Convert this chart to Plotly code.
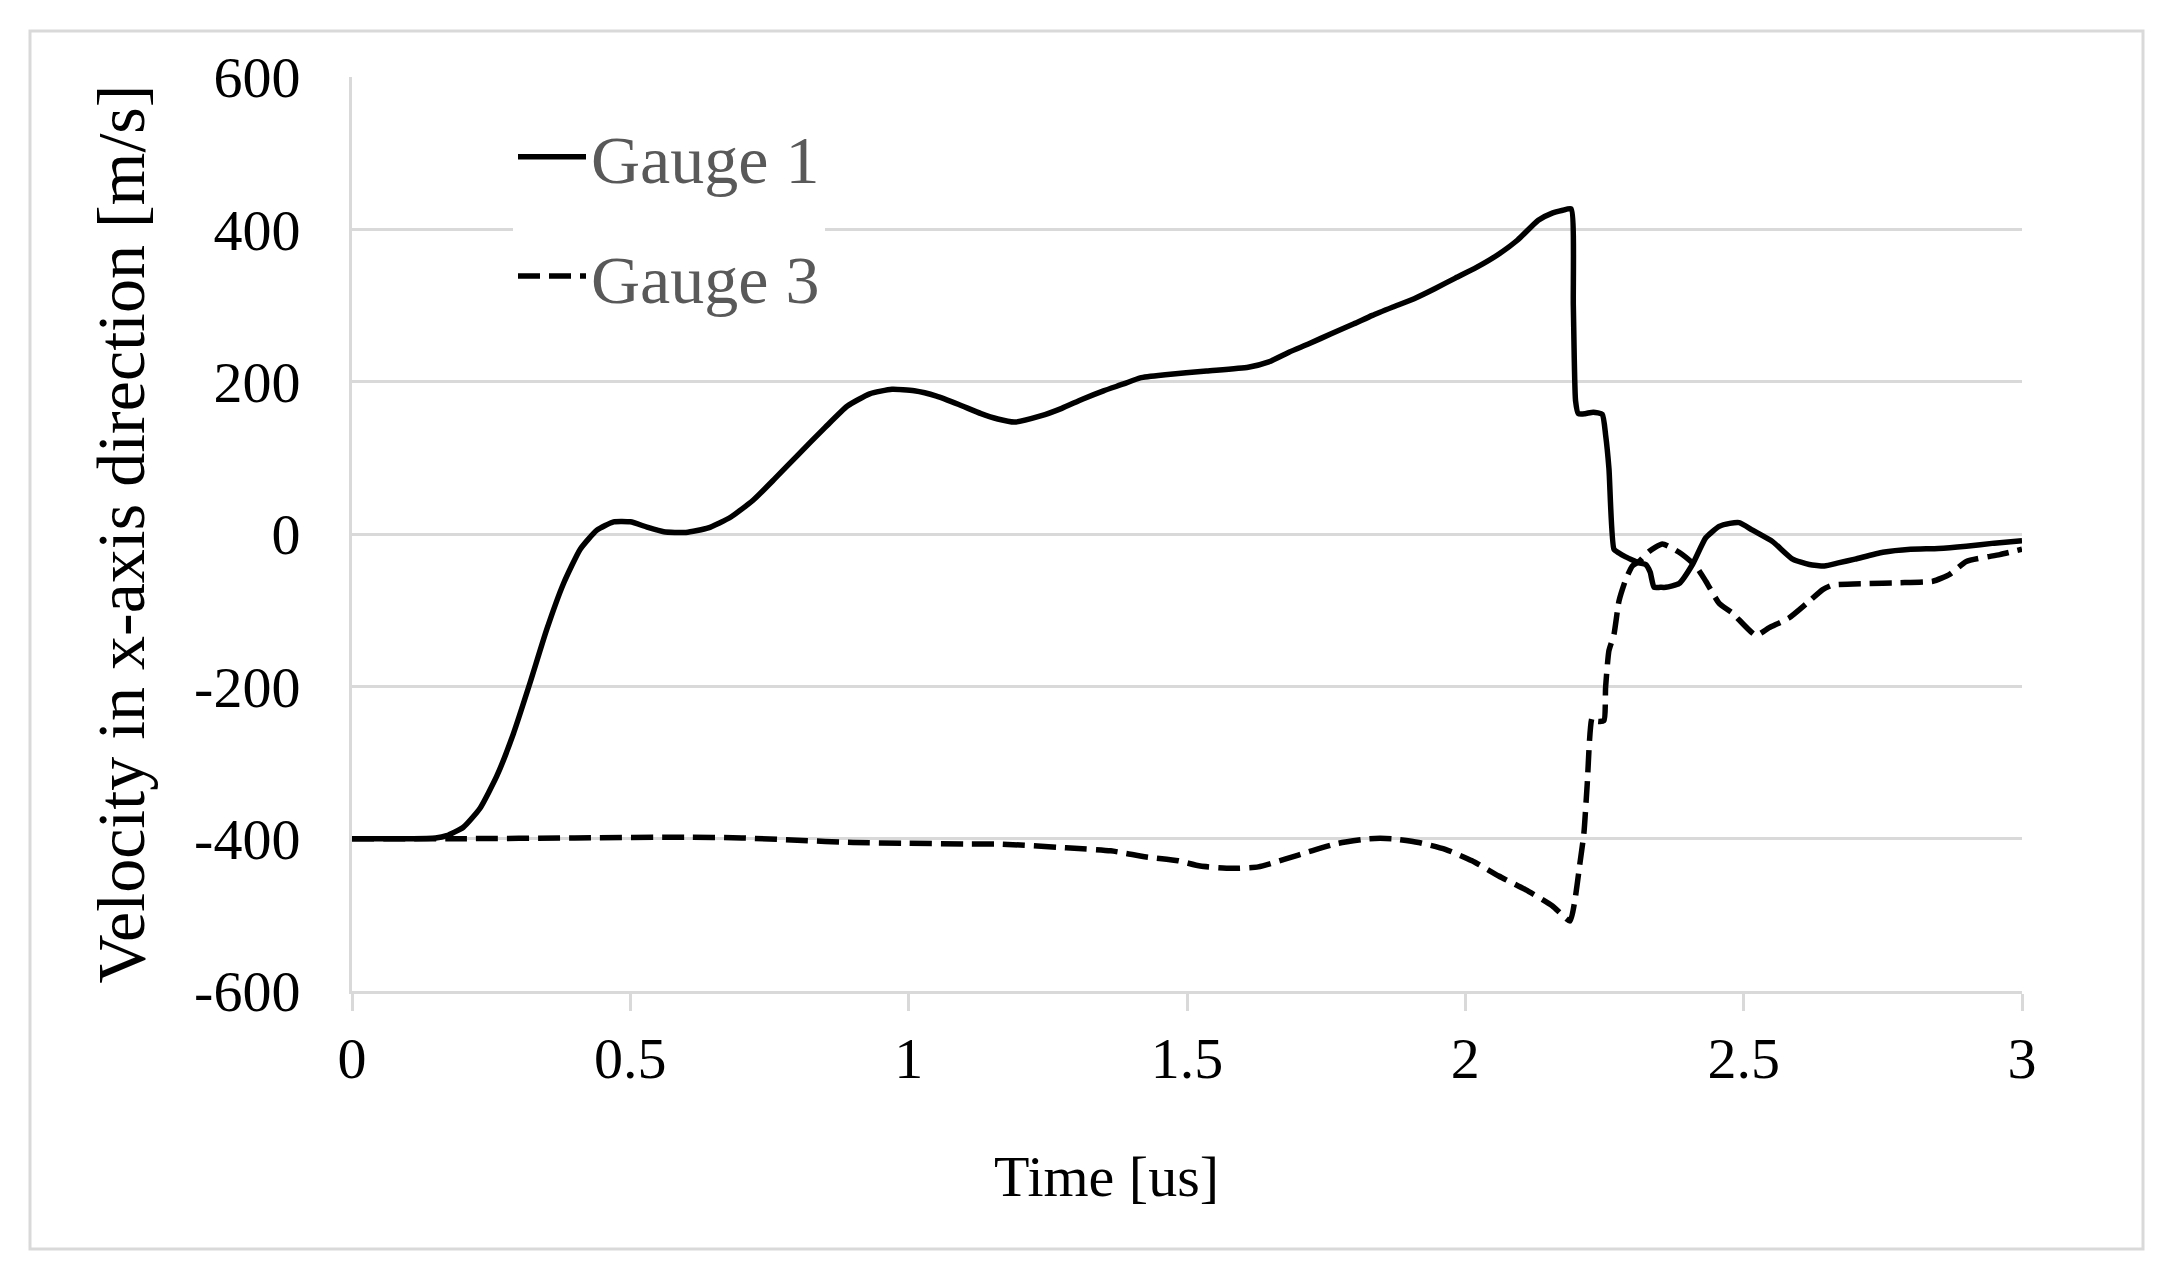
import plotly.graph_objects as go

# ---------------- data ----------------
time_g1 = [0, 0.05, 0.10, 0.15, 0.17, 0.20, 0.23, 0.26, 0.29, 0.32, 0.35, 0.38, 0.41,
           0.44, 0.47, 0.50, 0.53, 0.56, 0.60, 0.64, 0.68, 0.72, 0.76, 0.80, 0.85,
           0.89, 0.93, 0.97, 1.01, 1.05, 1.09, 1.13, 1.16, 1.19, 1.237, 1.275, 1.312,
           1.35, 1.386, 1.416, 1.461, 1.535, 1.61, 1.647, 1.684, 1.72, 1.759, 1.80,
           1.833, 1.87, 1.908, 1.945, 1.982, 2.02, 2.057, 2.094, 2.131, 2.155, 2.175,
           2.19, 2.194, 2.198, 2.203, 2.215, 2.23, 2.246, 2.252, 2.258, 2.267, 2.276,
           2.288, 2.300, 2.312, 2.324, 2.332, 2.339, 2.35, 2.36, 2.384, 2.408, 2.432,
           2.456, 2.475, 2.492, 2.516, 2.552, 2.588, 2.618, 2.645, 2.67, 2.70, 2.75,
           2.80, 2.85, 2.90, 2.95, 3.0]
vel_g1 = [-400, -400, -400, -399, -396, -385, -360, -318, -262, -195, -125, -65, -20,
          5, 16, 16, 9, 3, 2, 8, 22, 44, 73, 103, 140,
          168, 184, 190, 188, 181, 170, 158, 151, 147, 155, 165, 177,
          188, 197, 205, 209, 214, 219, 226, 239, 250, 263, 276,
          287, 298, 309, 322, 336, 350, 366, 386, 412, 421, 425,
          427, 300, 175, 158, 158, 160, 157, 130, 86, -20, -25,
          -30, -34, -38, -40, -50, -70, -70, -70, -65, -40, -5,
          10, 14, 15, 5, -10, -33, -40, -42, -38, -33, -24,
          -20, -19, -16, -12, -9]

time_g3 = [0, 0.2, 0.4, 0.6, 0.7, 0.8, 0.9, 1.0, 1.1, 1.163, 1.283, 1.363, 1.427,
           1.484, 1.524, 1.58, 1.628, 1.676, 1.724, 1.772, 1.828, 1.868, 1.916,
           1.964, 2.012, 2.06, 2.108, 2.156, 2.188, 2.197, 2.205, 2.213, 2.219,
           2.228, 2.238, 2.249, 2.252, 2.258, 2.267, 2.276, 2.288, 2.300, 2.312,
           2.33, 2.354, 2.384, 2.414, 2.432, 2.456, 2.48, 2.522, 2.546, 2.582,
           2.612, 2.642, 2.66, 2.72, 2.78, 2.84, 2.87, 2.90, 2.96, 3.0]
vel_g3 = [-400, -400, -399, -398, -399, -402, -405, -406, -407, -407, -412, -416, -424,
          -429, -436, -439, -437, -427, -416, -406, -400, -400, -405,
          -414, -429, -449, -467, -488, -508, -480, -437, -393, -328,
          -241, -246, -245, -201, -153, -132, -88, -60, -42, -36,
          -23, -13, -24, -42, -62, -91, -104, -133, -123, -110,
          -92, -73, -67, -65, -64, -62, -53, -36, -27, -20]

x_ticks = [0, 0.5, 1, 1.5, 2, 2.5, 3]
x_tick_labels = ["0", "0.5", "1", "1.5", "2", "2.5", "3"]
y_ticks = [-600, -400, -200, 0, 200, 400, 600]
y_tick_labels = ["-600", "-400", "-200", "0", "200", "400", "600"]

series_names = ["Gauge 1", "Gauge 3"]
x_title = "Time [us]"
y_title = "Velocity in x-axis direction [m/s]"

# ---------------- figure ----------------
W, H = 2182, 1275
OFF = 8                      # page body margin
PL, PT, PW, PH = 352, 77, 1670, 914   # plot box in screenshot pixels
L, T = PL - OFF, PT - OFF
R, B = W - L - PW, H - T - PH
FONT = "Liberation Serif, Times New Roman, serif"
GRID = "#d9d9d9"

fig = go.Figure()
fig.add_trace(go.Scatter(x=time_g1, y=vel_g1, mode="lines", name=series_names[0],
                         legendgroup="g1",
                         line=dict(color="#000000", width=5.5, shape="spline",
                                   smoothing=0.5)))
fig.add_trace(go.Scatter(x=time_g3, y=vel_g3, mode="lines", name=series_names[1],
                         legendgroup="g3",
                         line=dict(color="#000000", width=5.5, dash="22px,9px",
                                   shape="spline", smoothing=0.5)))


def px_x(p):
    return (p - PL) / PW


def px_y(p):
    return 1 - (p - PT) / PH


fig.update_layout(
    width=W, height=H,
    margin=dict(l=L, r=R, t=T, b=B, autoexpand=False),
    paper_bgcolor="white", plot_bgcolor="white",
    font=dict(family=FONT, color="#000000"),
    showlegend=True,
    legend=dict(x=px_x(513), y=px_y(106), xanchor="left", yanchor="top",
                bgcolor="white", borderwidth=0,
                font=dict(family=FONT, size=68, color="#595959"),
                traceorder="grouped", tracegroupgap=28, itemwidth=68),
    xaxis=dict(range=[0, 3], tickvals=x_ticks, ticktext=x_tick_labels,
               showgrid=False, zeroline=False,
               showline=True, linecolor=GRID, linewidth=3,
               ticks="outside", ticklen=17, tickwidth=3, tickcolor=GRID,
               tickfont=dict(family=FONT, size=58, color="#000000"),
               ticklabelstandoff=-3),
    xaxis2=dict(range=[0, 3], overlaying="x", anchor="y", side="bottom",
                tickvals=x_ticks, showticklabels=False, showgrid=False,
                zeroline=False, showline=False,
                ticks="inside", ticklen=17, tickwidth=3, tickcolor=GRID),
    yaxis=dict(range=[-600, 600], tickvals=y_ticks, ticktext=y_tick_labels,
               showgrid=True, gridcolor=GRID, gridwidth=3, zeroline=False,
               showline=True, linecolor=GRID, linewidth=3, ticks="",
               tickfont=dict(family=FONT, size=58, color="#000000"),
               ticklabelstandoff=37,
               title=dict(text=y_title, font=dict(family=FONT, size=68, color="#000000"),
                          standoff=28)),
    annotations=[dict(text=x_title, xref="paper", yref="paper",
                      x=px_x(1106), y=px_y(1176), xanchor="center", yanchor="middle",
                      showarrow=False,
                      font=dict(family=FONT, size=58, color="#000000"))],
    shapes=[dict(type="rect", xref="paper", yref="paper",
                 x0=px_x(30), x1=px_x(2143), y0=px_y(1249), y1=px_y(31),
                 line=dict(color=GRID, width=3), fillcolor="rgba(0,0,0,0)",
                 layer="below")],
)

fig.write_html("out.html")
